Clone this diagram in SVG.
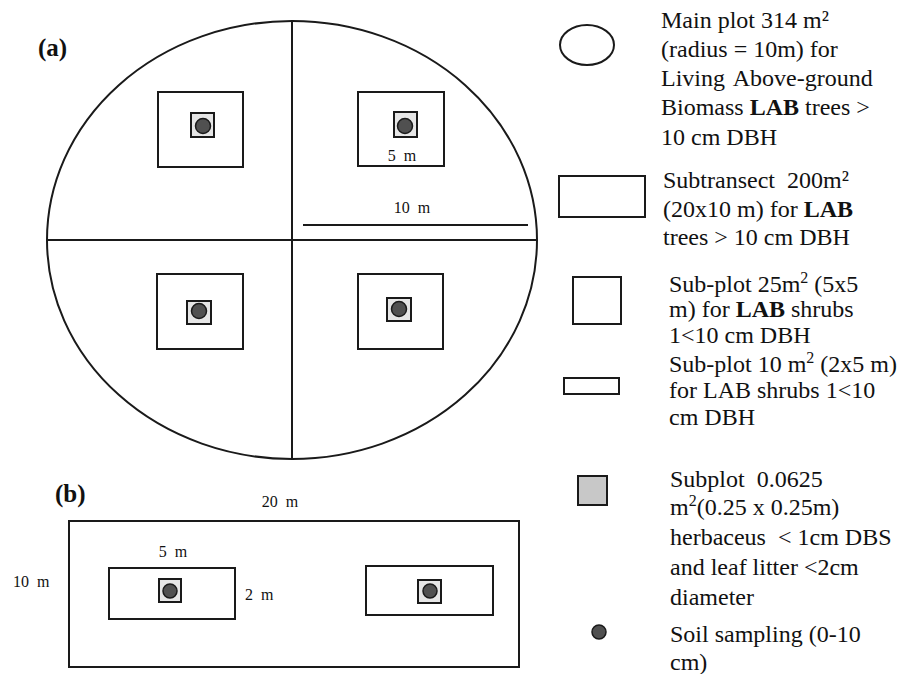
<svg xmlns="http://www.w3.org/2000/svg" width="915" height="674" viewBox="0 0 915 674" font-family="'Liberation Serif', 'Times New Roman', 'DejaVu Serif', serif">
<style>
.ln{fill:none;stroke:#1a1a1a;stroke-width:2}
.box{fill:#fff;stroke:#1a1a1a;stroke-width:2}
.sq{fill:#e6e6e6;stroke:#1a1a1a;stroke-width:2}
.dot{fill:#505050;stroke:#1a1a1a;stroke-width:1.5}
text{font-family:'Liberation Serif','Times New Roman','DejaVu Serif',serif;fill:#111}
.lg{font-size:24px}
.sm{font-size:16px}
.lab{font-size:25px;font-weight:bold}
.b{font-weight:bold}
</style>
<rect width="915" height="674" fill="#fff"/>

<g id="panel-a">
  <text class="lab" x="38" y="56">(a)</text>
  <ellipse class="ln" cx="292" cy="240" rx="245" ry="219"/>
  <line class="ln" x1="292" y1="21" x2="292" y2="459"/>
  <line class="ln" x1="47" y1="240" x2="537" y2="240"/>
  <g id="a-tl">
    <rect class="box" x="158" y="92" width="85" height="75"/>
    <rect class="sq" x="191" y="113" width="23" height="24"/>
    <circle class="dot" cx="203" cy="126" r="7.5"/>
  </g>
  <g id="a-tr">
    <rect class="box" x="358" y="92" width="86" height="74"/>
    <rect class="sq" x="394" y="112" width="23" height="25"/>
    <circle class="dot" cx="405" cy="126" r="7.5"/>
    <text class="sm" x="402" y="161" text-anchor="middle" xml:space="preserve">5  m</text>
  </g>
  <g id="a-radius">
    <text class="sm" x="412" y="213" text-anchor="middle" xml:space="preserve">10  m</text>
    <line class="ln" x1="303" y1="225" x2="528" y2="225"/>
  </g>
  <g id="a-bl">
    <rect class="box" x="157" y="274" width="86" height="75"/>
    <rect class="sq" x="187" y="301" width="24" height="23"/>
    <circle class="dot" cx="199" cy="311" r="7.5"/>
  </g>
  <g id="a-br">
    <rect class="box" x="358" y="274" width="85" height="75"/>
    <rect class="sq" x="387" y="298" width="24" height="23"/>
    <circle class="dot" cx="399" cy="309" r="7.5"/>
  </g>
</g>

<g id="panel-b">
  <text class="lab" x="55" y="502">(b)</text>
  <text class="sm" x="280" y="507" text-anchor="middle" xml:space="preserve">20  m</text>
  <text class="sm" x="13" y="587" xml:space="preserve">10  m</text>
  <rect class="box" x="69" y="521" width="450" height="146"/>
  <g id="b-left">
    <text class="sm" x="173" y="557" text-anchor="middle" xml:space="preserve">5  m</text>
    <rect class="box" x="109" y="568" width="126" height="51"/>
    <rect class="sq" x="159" y="579" width="22" height="23"/>
    <circle class="dot" cx="170" cy="591" r="7"/>
    <text class="sm" x="245" y="600" xml:space="preserve">2  m</text>
  </g>
  <g id="b-right">
    <rect class="box" x="366" y="566" width="127" height="49"/>
    <rect class="sq" x="418" y="580" width="23" height="23"/>
    <circle class="dot" cx="430" cy="591" r="7"/>
  </g>
</g>

<g id="legend">
  <g id="leg-main">
    <ellipse class="ln" cx="587" cy="45" rx="27" ry="20"/>
    <text class="lg" x="661" y="28">Main plot 314 m²</text>
    <text class="lg" x="661" y="57">(radius = 10m) for</text>
    <text class="lg" x="661" y="86" word-spacing="3">Living Above-ground</text>
    <text class="lg" x="661" y="115">Biomass <tspan class="b">LAB</tspan> trees &gt;</text>
    <text class="lg" x="661" y="145">10 cm DBH</text>
  </g>
  <g id="leg-subtransect">
    <rect class="box" x="559" y="176" width="86" height="41"/>
    <text class="lg" x="663" y="188" xml:space="preserve">Subtransect  200m²</text>
    <text class="lg" x="663" y="217">(20x10 m) for <tspan class="b">LAB</tspan></text>
    <text class="lg" x="663" y="245">trees &gt; 10 cm DBH</text>
  </g>
  <g id="leg-subplot25">
    <rect class="box" x="573" y="277" width="48" height="47"/>
    <text class="lg" x="669" y="292">Sub-plot 25m<tspan font-size="16" dy="-9">2</tspan><tspan dy="9"> (5x5</tspan></text>
    <text class="lg" x="669" y="317">m) for <tspan class="b">LAB</tspan> shrubs</text>
    <text class="lg" x="669" y="343">1&lt;10 cm DBH</text>
  </g>
  <g id="leg-subplot10">
    <rect class="box" x="564" y="378" width="55" height="16"/>
    <text class="lg" x="669" y="372">Sub-plot 10 m<tspan font-size="16" dy="-9">2</tspan><tspan dy="9"> (2x5 m)</tspan></text>
    <text class="lg" x="669" y="398">for LAB shrubs 1&lt;10</text>
    <text class="lg" x="669" y="425">cm DBH</text>
  </g>
  <g id="leg-herb">
    <rect x="578" y="476" width="29" height="29" fill="#c8c8c8" stroke="#1a1a1a" stroke-width="2"/>
    <text class="lg" x="670" y="487" xml:space="preserve">Subplot  0.0625</text>
    <text class="lg" x="670" y="515">m<tspan font-size="16" dy="-9">2</tspan><tspan dy="9">(0.25 x 0.25m)</tspan></text>
    <text class="lg" x="670" y="545" xml:space="preserve">herbaceus  &lt; 1cm DBS</text>
    <text class="lg" x="670" y="575">and leaf litter &lt;2cm</text>
    <text class="lg" x="670" y="605">diameter</text>
  </g>
  <g id="leg-soil">
    <circle class="dot" cx="599" cy="632" r="7"/>
    <text class="lg" x="670" y="642">Soil sampling (0-10</text>
    <text class="lg" x="670" y="670">cm)</text>
  </g>
</g>
</svg>
